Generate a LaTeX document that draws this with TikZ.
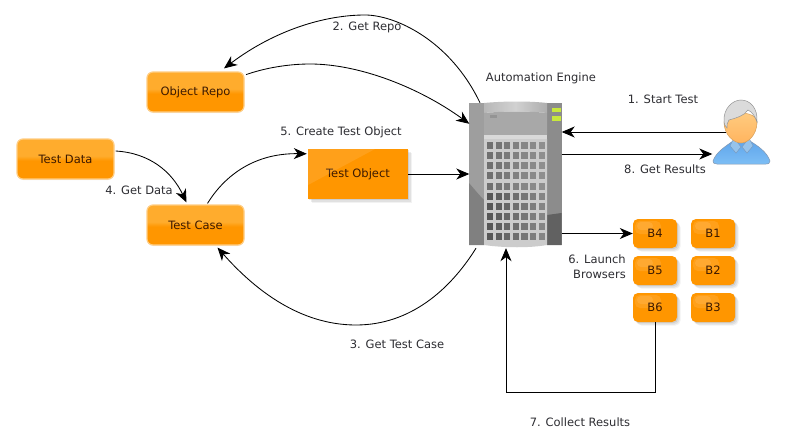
\documentclass[tikz,border=0pt]{standalone}
\usepackage{fontspec}
\setmainfont{DejaVu Sans}
\usetikzlibrary{arrows.meta,shadows,fadings}
\definecolor{labelc}{RGB}{45,45,50}
\definecolor{nodetxt}{RGB}{60,25,0}
\definecolor{orA}{RGB}{255,195,95}
\definecolor{orB}{RGB}{255,172,45}
\definecolor{orC}{RGB}{255,150,0}
\definecolor{orD}{RGB}{255,160,15}
\definecolor{glassedge}{RGB}{255,205,130}
\definecolor{ledc}{RGB}{200,232,60}
\definecolor{shirtA}{RGB}{95,165,235}
\definecolor{shirtB}{RGB}{125,190,245}
\definecolor{shirtE}{RGB}{130,150,175}
\definecolor{collarF}{RGB}{150,195,235}
\definecolor{collarE}{RGB}{120,150,185}
\definecolor{skinA}{RGB}{255,205,130}
\definecolor{skinB}{RGB}{255,180,95}
\definecolor{skinE}{RGB}{215,160,90}
\pgfdeclareverticalshading{glossy}{100bp}{color(0bp)=(orD); color(25bp)=(orC); color(48bp)=(orC); color(54bp)=(orB); color(75bp)=(orB); color(100bp)=(orA)}
\tikzset{
  x=1pt,y=-1pt,
  every node/.style={font=\fontsize{11.5}{14.5}\selectfont,inner sep=0pt},
  lbl/.style={text=labelc},
  softshadow/.style={drop shadow={shadow xshift=3.5pt,shadow yshift=-3.5pt,opacity=.1},drop shadow={shadow xshift=2.5pt,shadow yshift=-2.5pt,opacity=.15},drop shadow={shadow xshift=1.2pt,shadow yshift=-1.2pt,opacity=.2}},
  glassbox/.style={rectangle,rounded corners=6pt,draw=glassedge,line width=1.2pt,shading=glossy,minimum width=97pt,minimum height=40pt,text=nodetxt,drop shadow={shadow xshift=0pt,shadow yshift=-1pt,opacity=.12}},
  objbox/.style={rectangle,fill=orC,minimum width=100pt,minimum height=50pt,text=nodetxt,softshadow},
  brbox/.style={rectangle,rounded corners=5pt,fill=orC,minimum width=44pt,minimum height=29pt,text=nodetxt,softshadow},
  conn/.style={draw=black,line width=.85pt,-{Stealth[length=13pt,width=11pt,inset=4pt]}}
}
\newcommand{\hilite}[2]{\fill[white,opacity=.1,rounded corners=5pt] (#1+2,#2+2) rectangle (#1+28,#2+15);\fill[white,opacity=.1,rounded corners=4pt] (#1+4,#2+3) rectangle (#1+20,#2+11);}
\begin{document}
\begin{tikzpicture}
\useasboundingbox (0,0) rectangle (785,447);
\fill[white] (0,0) rectangle (785,447);

% boxes
\node[glassbox] (repo) at (195.5,92) {Object Repo};
\node[glassbox] (data) at (65.5,159) {Test Data};
\node[glassbox] (tcase) at (195.5,225) {Test Case};
\node[objbox] (tobj) at (358,174) {Test Object};
\fill[white,opacity=.1] (308,149) -- (375,149) -- (308,185) -- cycle;

% browsers
\node[brbox] (b4) at (655,233.5) {};
\node[brbox] (b1) at (713,233.5) {};
\node[brbox] (b5) at (655,270.5) {};
\node[brbox] (b2) at (713,270.5) {};
\node[brbox] (b6) at (655,307.5) {};
\node[brbox] (b3) at (713,307.5) {};
\hilite{633}{219}\hilite{691}{219}\hilite{633}{256}\hilite{691}{256}\hilite{633}{293}\hilite{691}{293}
\node[text=nodetxt] at (b4) {B4};
\node[text=nodetxt] at (b1) {B1};
\node[text=nodetxt] at (b5) {B5};
\node[text=nodetxt] at (b2) {B2};
\node[text=nodetxt] at (b6) {B6};
\node[text=nodetxt] at (b3) {B3};

% server
\node[rectangle,minimum width=92pt,minimum height=142pt] (engine) at (515.5,174) {};
\fill[black!38] (469,103) rectangle (484,245);
\fill[black!50] (469,183) .. controls (475,190) and (480,196) .. (484,200) -- (484,245) -- (469,245) -- cycle;
\fill[black!45] (547,103) rectangle (561.5,245);
\fill[black!62] (547,215) -- (561.5,213) -- (561.5,245) -- (547,245) -- cycle;
\shade[left color=black!28,right color=black!32,middle color=black!18] (484,103) .. controls (505,101) and (530,101) .. (547,103) -- (547,113) .. controls (530,111) and (505,111) .. (484,113) -- cycle;
\fill[black!34] (484,113) .. controls (505,111) and (530,111) .. (547,113) -- (547,135) -- (484,135) -- cycle;
\fill[black!15] (484,135) rectangle (547,139);
\fill[black!20] (484,139) -- (547,139) -- (547,245) .. controls (530,248) and (505,248) .. (484,245) -- cycle;
\foreach \r in {0,...,9}{\foreach \c in {0,...,6}{
  \pgfmathsetmacro{\gv}{\r>4 ? 66-\c*3 : 56-\c*2}
  \fill[black!\gv] ({487+\c*8.6},{142+\r*10.15}) rectangle ++(6.2,7);
}}
\fill[black!42] (490,115) rectangle (497,118);
\fill[ledc] (552,107.5) rectangle (561,112);
\fill[ledc] (552,116) rectangle (561,120.5);

% user
\node[rectangle,minimum width=58pt,minimum height=64pt] (user) at (741.5,132) {};
\shade[top color=shirtA,bottom color=shirtB,draw=shirtE,line width=.5pt]
  (713,161) .. controls (716,152) and (726,146) .. (733,141) -- (750,141) .. controls (758,146) and (767,152) .. (770,161) .. controls (770,164) and (768,164) .. (766,164) -- (717,164) .. controls (714,164) and (713,163) .. (713,161) -- cycle;
\fill[collarF,draw=collarE,line width=.4pt] (730,146) -- (734,138) -- (741,147) -- (736,153) -- cycle;
\fill[collarF,draw=collarE,line width=.4pt] (753,146) -- (749,138) -- (742,147) -- (747,153) -- cycle;
\shade[top color=skinA,bottom color=skinB,draw=skinE,line width=.5pt]
  (724,122) .. controls (724,110) and (757,110) .. (757,122) .. controls (757,135) and (748,143) .. (741,143) .. controls (734,143) and (724,135) .. (724,122) -- cycle;
\fill[black!14,draw=black!42,line width=.5pt] (724,122) .. controls (723,108) and (733,100) .. (741,100) .. controls (750,100) and (758,108) .. (757,122) .. controls (755,116) and (752,112) .. (748,110) .. controls (744,116) and (736,118) .. (729,120) .. controls (727,122) and (727,125) .. (727,128) .. controls (725,126) and (724,124) .. (724,122) -- cycle;

% connectors
\coordinate (resultsy) at (0,154);
\draw[conn] ([xshift=-35.5pt]engine.north) .. controls (450,40) and (395,15) .. (365,15) .. controls (325,15) and (275,30) .. ([xshift=28.5pt,yshift=3pt]repo.north);
\draw[conn] ([yshift=38pt,xshift=1.5pt]repo.south east) .. controls (265,68) and (288,64) .. (310,64) .. controls (360,64) and (420,88) .. ([yshift=-21pt]engine.north west);
\draw[conn] ([yshift=8pt,xshift=1pt]data.east) .. controls (150,153) and (172,172) .. ([xshift=-9pt,yshift=2pt]tcase.north);
\draw[conn] ([xshift=12pt,yshift=1pt]tcase.north) .. controls (225,175) and (255,153) .. ([yshift=-5pt,xshift=-1pt]tobj.north west);
\draw[conn] (tobj.east) -- (engine.west);
\draw[conn] ([xshift=-39.5pt,yshift=-3pt]engine.south) .. controls (450,290) and (410,325) .. (356,325) .. controls (300,325) and (255,290) .. ([xshift=22pt,yshift=-2pt]tcase.south);
\draw[conn] ([xshift=14pt]user.west) -- (engine.east |- user.west);
\draw[conn] (engine.east |- resultsy) -- (user.west |- resultsy);
\draw[conn] (engine.east |- b4.west) -- (b4.west);
\draw[conn] (b6.south) -- ++(0,70) -| ([xshift=-9.5pt,yshift=-3pt]engine.south);

% labels
\node[lbl] at (367,27) {2. Get Repo};
\node[lbl] at (541,78) {Automation Engine};
\node[lbl] at (663,99) {1. Start Test};
\node[lbl] at (341,132) {5. Create Test Object};
\node[lbl] at (665,169) {8. Get Results};
\node[lbl] at (139,190) {4. Get Data};
\node[lbl,align=right] at (597,266.5) {6. Launch\\Browsers};
\node[lbl] at (397,344) {3. Get Test Case};
\node[lbl] at (580,422) {7. Collect Results};
\end{tikzpicture}
\end{document}
